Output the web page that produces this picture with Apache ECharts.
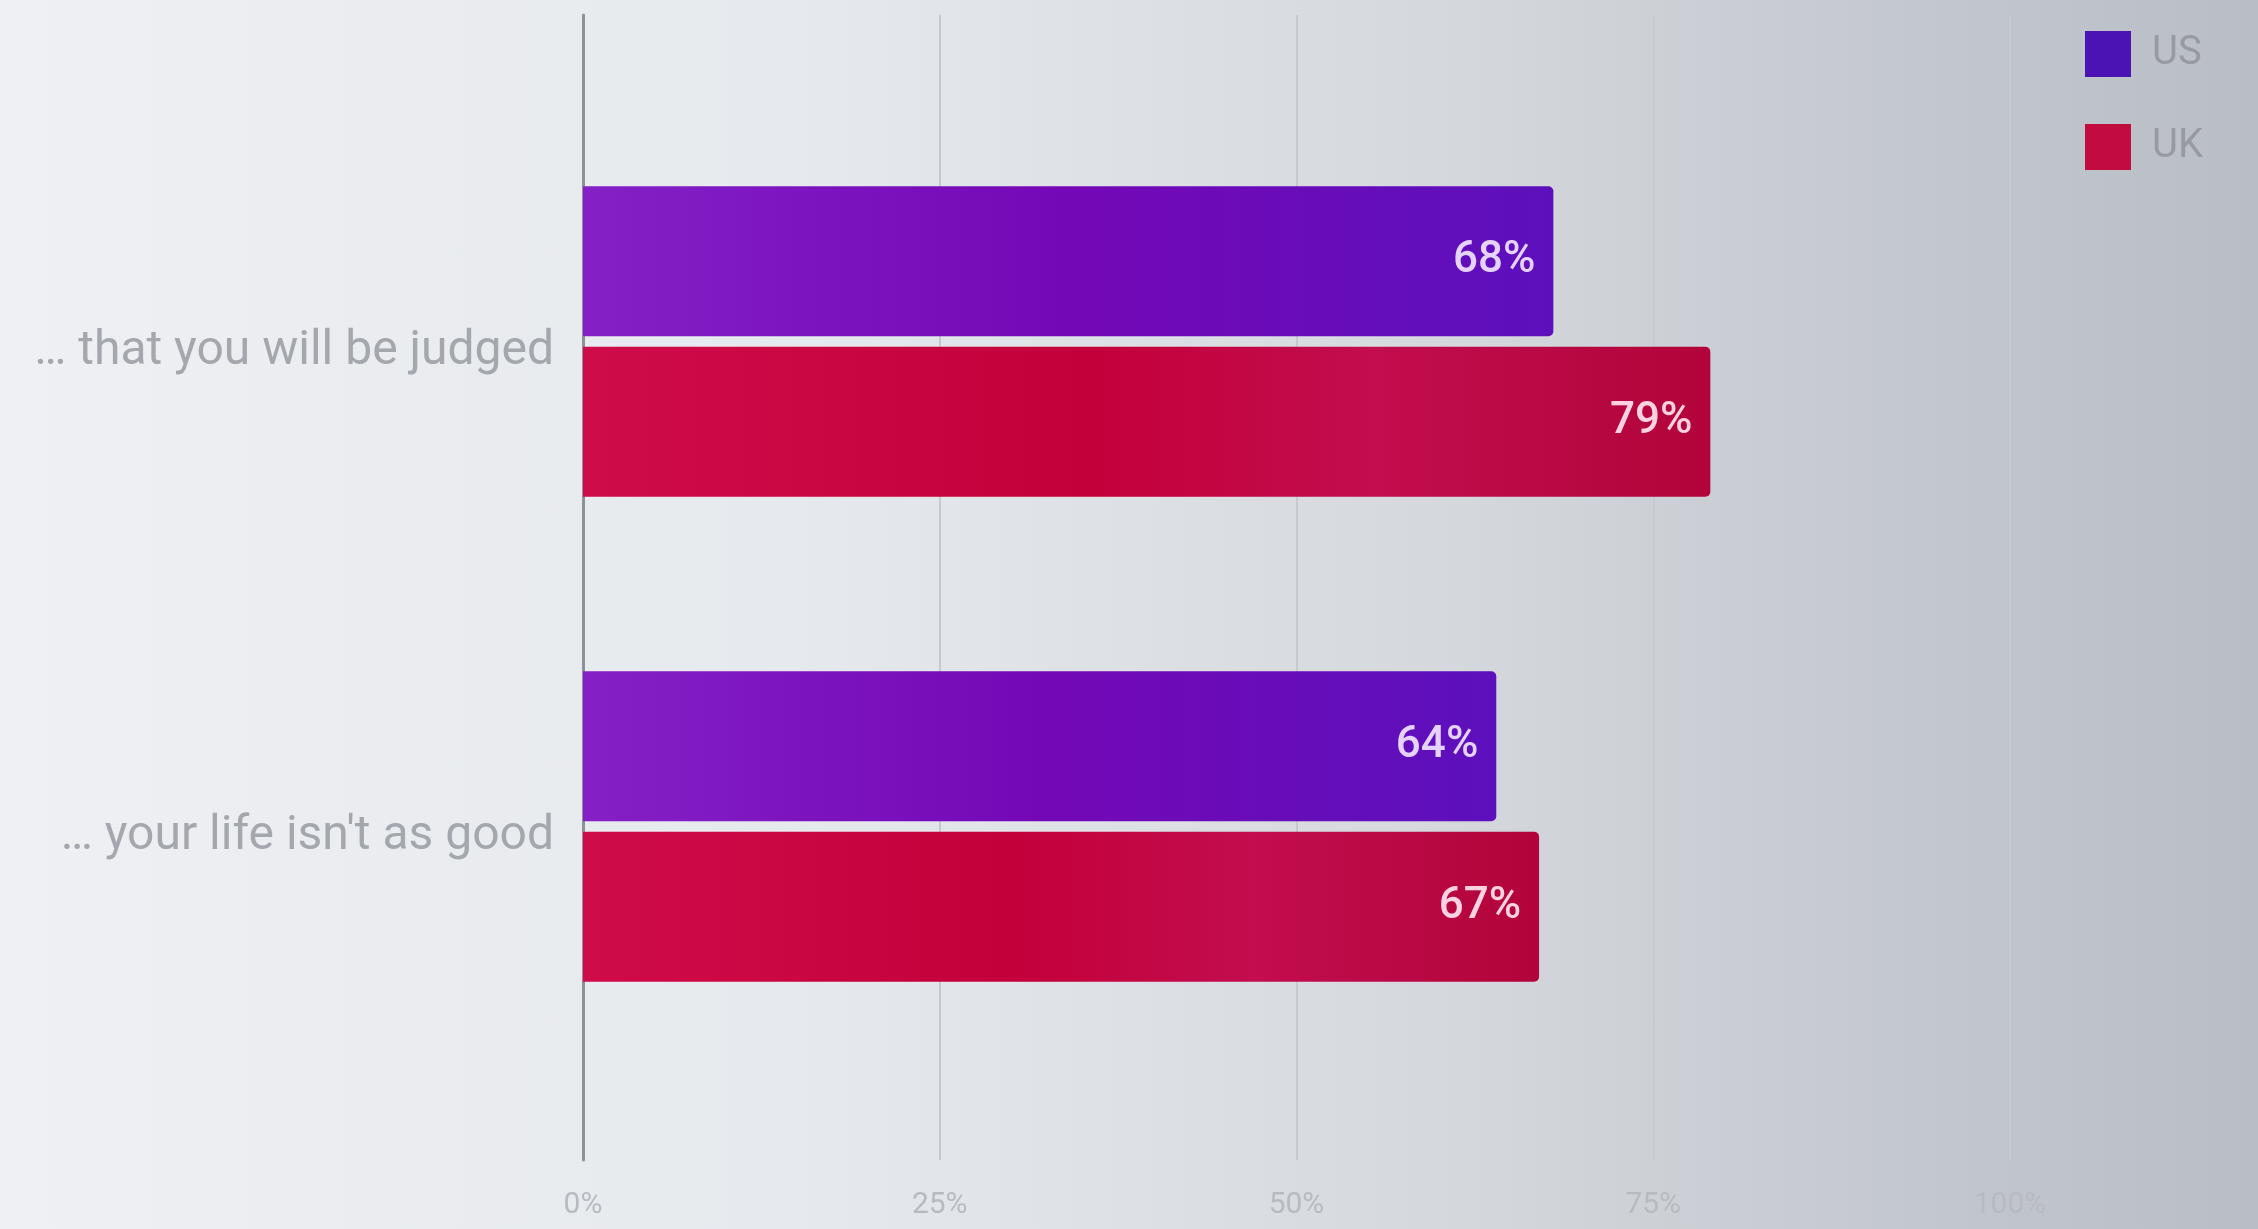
<!DOCTYPE html>
<html>
<head>
<meta charset="utf-8">
<title>US vs UK</title>
<script src="https://cdn.jsdelivr.net/npm/echarts@6/dist/echarts.min.js"></script>
<style>
  html, body { margin: 0; padding: 0; }
  body {
    width: 2258px; height: 1229px; overflow: hidden;
    background: linear-gradient(90deg, #eef0f3 0%, #e6e9ed 35%, #d4d8dd 65%, #c3c7ce 85%, #b9bdc5 100%);
  }
  #chart { width: 2258px; height: 1229px; }
</style>
</head>
<body>
<div id="chart"></div>
<script>
// Survey statements (share who feel each)
const categories = ['… that you will be judged', '… your life isn\'t as good'];
const usValues = [68, 64];
const ukValues = [79, 67];
const ticks = [0, 25, 50, 75, 100];
const seriesNames = ['US', 'UK'];

const chart = echarts.init(document.getElementById('chart'), null, { renderer: 'canvas' });

const usFill = new echarts.graphic.LinearGradient(0, 0, 1, 0, [
  { offset: 0, color: '#8420c6' },
  { offset: 0.5, color: '#7408b6' },
  { offset: 1, color: '#5c10bc' }
]);
const ukFill = new echarts.graphic.LinearGradient(0, 0, 1, 0, [
  { offset: 0, color: '#cf0c4a' },
  { offset: 0.45, color: '#c4003a' },
  { offset: 0.7, color: '#c20d4e' },
  { offset: 1, color: '#b2043a' }
]);

const plotLeft = 583;
const plotRight = 2258 - 2010;

chart.setOption({
  animation: false,
  textStyle: { fontFamily: 'Roboto, "Noto Sans", sans-serif' },
  legend: {
    orient: 'vertical',
    left: 2080,
    top: 26,
    itemWidth: 46,
    itemHeight: 46,
    itemGap: 47,
    icon: 'rect',
    textStyle: { fontSize: 40, color: '#979ba1', padding: [0, 0, 0, 16] },
    data: [
      { name: seriesNames[0], itemStyle: { color: '#4b12b4' } },
      { name: seriesNames[1], itemStyle: { color: '#c20c40' } }
    ]
  },
  grid: [
    // frame grid: gridlines, tick labels and the zero axis line
    { left: plotLeft, right: plotRight, top: 15, bottom: 69 },
    // bar grid: category bands
    { left: plotLeft, right: plotRight, top: 99, height: 970 }
  ],
  xAxis: [
    {
      gridIndex: 0, type: 'value', min: ticks[0], max: ticks[ticks.length - 1], interval: 25,
      axisLine: { show: false }, axisTick: { show: false },
      splitLine: { show: true, lineStyle: { color: '#c6cad0', width: 2 } },
      axisLabel: {
        margin: 30, fontSize: 30, color: '#b7bbc1',
        formatter: v => v + '%'
      }
    },
    {
      gridIndex: 1, type: 'value', min: ticks[0], max: ticks[ticks.length - 1],
      show: false
    }
  ],
  yAxis: [
    {
      gridIndex: 0, type: 'value',
      axisLine: { show: true, lineStyle: { color: '#8e9298', width: 3 } },
      axisTick: { show: false }, axisLabel: { show: false }, splitLine: { show: false }
    },
    {
      gridIndex: 1, type: 'category', inverse: true, data: categories,
      axisLine: { show: false }, axisTick: { show: false },
      axisLabel: {
        margin: 29,
        formatter: v => '{c|' + v + '}',
        rich: { c: { fontSize: 48, color: '#a4a8ae', padding: [20, 0, 0, 0] } }
      }
    }
  ],
  series: [
    {
      name: seriesNames[0], type: 'bar', xAxisIndex: 1, yAxisIndex: 1,
      data: usValues, barWidth: 150, barGap: '7%',
      itemStyle: { color: usFill, borderRadius: [0, 5, 5, 0] },
      label: {
        show: true, position: 'insideRight', distance: 18,
        fontSize: 44, fontWeight: 500, color: '#e6d2ff',
        formatter: p => p.value + '%'
      }
    },
    {
      name: seriesNames[1], type: 'bar', xAxisIndex: 1, yAxisIndex: 1,
      data: ukValues, barWidth: 150,
      itemStyle: { color: ukFill, borderRadius: [0, 5, 5, 0] },
      label: {
        show: true, position: 'insideRight', distance: 18,
        fontSize: 44, fontWeight: 500, color: '#ffd2e2',
        formatter: p => p.value + '%'
      }
    }
  ]
});
</script>
</body>
</html>
